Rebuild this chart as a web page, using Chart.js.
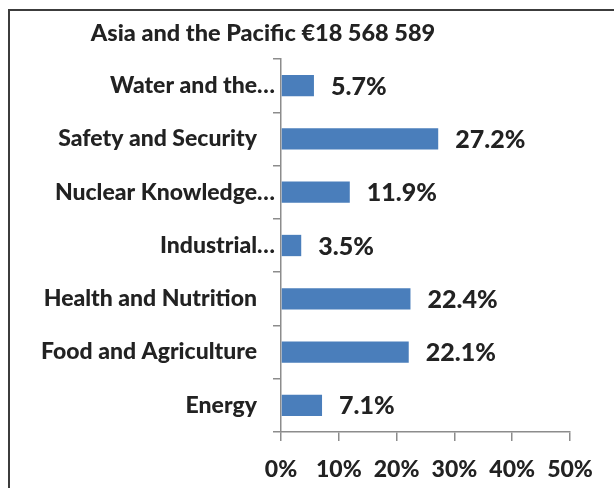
<!DOCTYPE html>
<html><head><meta charset="utf-8">
<script src="https://cdn.jsdelivr.net/npm/chart.js@4"></script>
<style>
html,body{margin:0;padding:0;background:#fff;width:614px;height:488px;overflow:hidden}
#frame{position:absolute;left:8px;top:9px;width:700px;height:600px;border-left:2px solid #3c3c3c;border-top:2px solid #3c3c3c}
#wrap{position:absolute;left:0;top:0;width:614px;height:488px}
</style></head>
<body>
<div id="frame"></div>
<div id="wrap"><canvas id="c" width="614" height="488"></canvas></div>
<script>
const chartTitle = 'Asia and the Pacific €18 568 589';
const categories = ['Water and the…', 'Safety and Security', 'Nuclear Knowledge…', 'Industrial…', 'Health and Nutrition', 'Food and Agriculture', 'Energy'];
const shares = [5.7, 27.2, 11.9, 3.5, 22.4, 22.1, 7.1];
const xTickValues = [0, 10, 20, 30, 40, 50];

const FONT = 'Lato';
const W = '900';
const TEXT = '#222222';
const AXIS = '#8c8c8c';

const customText = {
  id: 'customText',
  afterDatasetsDraw(chart) {
    const ctx = chart.ctx;
    const meta = chart.getDatasetMeta(0);
    const yScale = chart.scales.y;
    ctx.save();
    ctx.fillStyle = TEXT;
    ctx.textBaseline = 'middle';
    // value labels
    ctx.font = W + ' 25px ' + FONT;
    ctx.textAlign = 'left';
    meta.data.forEach((bar, i) => {
      ctx.fillText(shares[i].toFixed(1) + '%', bar.x + 17, bar.y + 1);
    });
    // category labels
    ctx.font = W + ' 23px ' + FONT;
    ctx.textAlign = 'right';
    categories.forEach((c, i) => {
      const y = yScale.getPixelForValue(i);
      const x = c.endsWith('…') ? yScale.right - 6 : yScale.right - 24;
      ctx.fillText(c, x, y);
    });
    // title
    ctx.font = W + ' 23.5px ' + FONT;
    ctx.textAlign = 'center';
    ctx.fillText(chartTitle, 263, 33);
    ctx.restore();
  }
};

new Chart(document.getElementById('c'), {
  type: 'bar',
  data: {
    labels: categories,
    datasets: [{
      data: shares,
      backgroundColor: '#4a7ebb',
      borderWidth: 0,
      barPercentage: 0.4,
      categoryPercentage: 1.0
    }]
  },
  options: {
    indexAxis: 'y',
    responsive: false,
    animation: false,
    devicePixelRatio: 1,
    layout: { padding: { top: 59, right: 44, bottom: 0, left: 0 } },
    plugins: { legend: { display: false }, title: { display: false }, tooltip: { enabled: false } },
    scales: {
      x: {
        min: 0, max: 50,
        afterBuildTicks: s => { s.ticks = xTickValues.map(v => ({ value: v })); },
        ticks: {
          callback: v => v + '%',
          color: TEXT,
          font: { family: FONT, size: 23, weight: W },
          padding: 15,
          maxRotation: 0
        },
        grid: { drawOnChartArea: false, drawTicks: true, tickLength: 9, color: AXIS, lineWidth: 1.5 },
        border: { color: AXIS, width: 1.5 },
        afterFit: s => { s.height = 56; }
      },
      y: {
        type: 'category',
        ticks: { display: false },
        grid: { offset: true, drawOnChartArea: false, drawTicks: true, tickLength: 8, color: AXIS, lineWidth: 1.5 },
        border: { color: AXIS, width: 1.5 },
        afterFit: s => { s.width = 281; }
      }
    }
  },
  plugins: [customText]
});
</script>
</body></html>
